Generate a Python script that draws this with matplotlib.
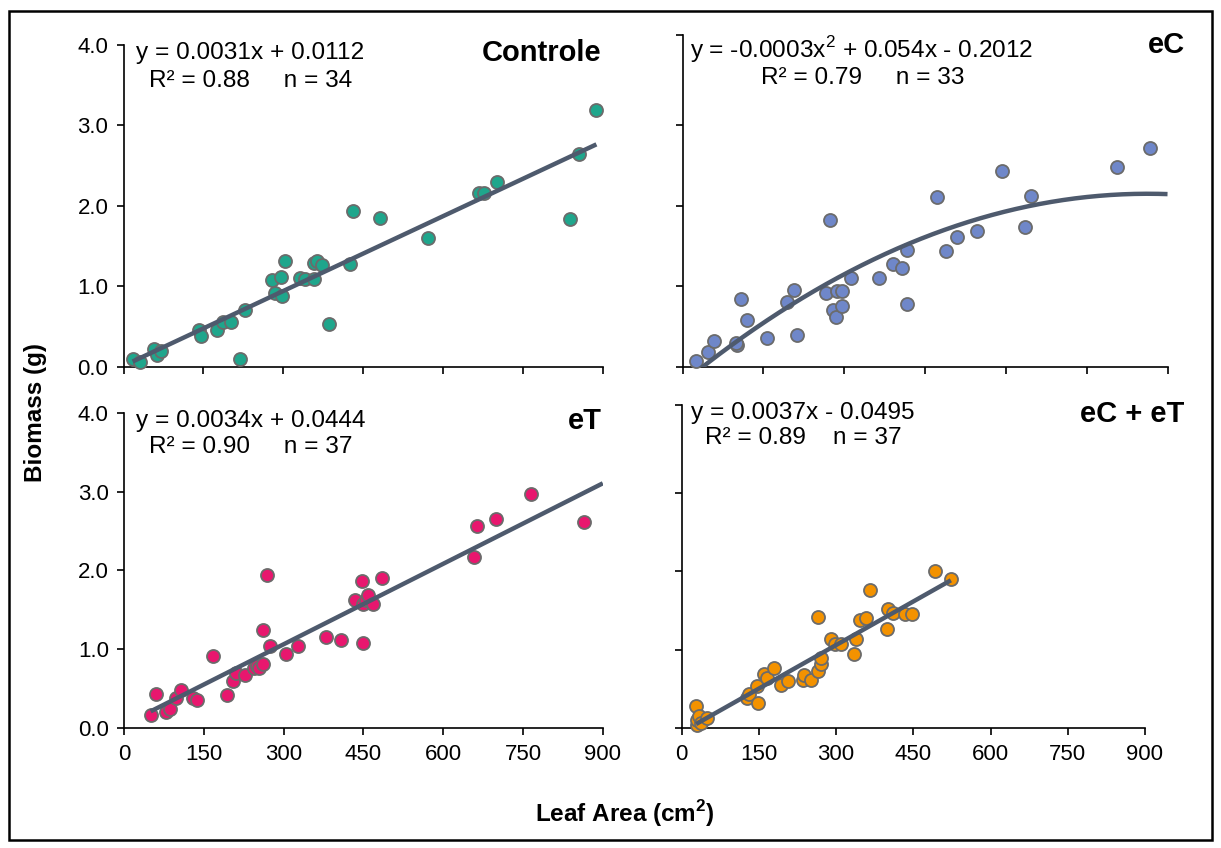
import numpy as np
import matplotlib
matplotlib.use("Agg")
import matplotlib.pyplot as plt
from matplotlib.patches import Rectangle

plt.rcParams["font.family"] = ["Liberation Sans", "DejaVu Sans"]
plt.rcParams["mathtext.fontset"] = "custom"
plt.rcParams["mathtext.rm"] = "Liberation Sans"
plt.rcParams["mathtext.bf"] = "Liberation Sans:bold"

# Controle
ctrl_x = [17, 30, 58, 62, 70, 142, 146, 176, 187, 202, 219, 228, 278, 285, 296,
          298, 303, 332, 340, 358, 358, 364, 373, 386, 425, 430, 481, 571, 668,
          677, 701, 839, 855, 888]
ctrl_y = [0.10, 0.06, 0.22, 0.15, 0.19, 0.45, 0.38, 0.45, 0.56, 0.55, 0.10, 0.71,
          1.08, 0.92, 1.11, 0.88, 1.32, 1.10, 1.09, 1.09, 1.29, 1.32, 1.27, 0.53,
          1.28, 1.93, 1.85, 1.60, 2.16, 2.16, 2.30, 1.84, 2.65, 3.19]

# eC
ec_x = [25, 47, 58, 101, 100, 109, 120, 156, 193, 206, 213, 267, 274, 279, 284,
        287, 296, 313, 364, 390, 407, 416, 417, 473, 488, 510, 547, 593, 635,
        647, 806, 867, 296]
ec_y = [0.07, 0.18, 0.32, 0.27, 0.30, 0.84, 0.58, 0.36, 0.80, 0.95, 0.39, 0.91,
        1.82, 0.71, 0.62, 0.94, 0.75, 1.10, 1.10, 1.27, 1.22, 0.78, 1.45, 2.11,
        1.44, 1.61, 1.68, 2.43, 1.74, 2.12, 2.48, 2.72, 0.94]

# eT
et_x = [50, 60, 79, 86, 98, 107, 130, 138, 168, 193, 205, 210, 228, 245, 249,
        253, 261, 261, 269, 274, 304, 327, 380, 408, 434, 447, 449, 450, 455,
        458, 468, 485, 657, 663, 699, 765, 864]
et_y = [0.17, 0.43, 0.20, 0.25, 0.38, 0.49, 0.38, 0.36, 0.92, 0.42, 0.60, 0.70,
        0.67, 0.77, 0.79, 0.77, 1.24, 0.81, 1.94, 1.04, 0.94, 1.04, 1.16, 1.12,
        1.63, 1.86, 1.08, 1.58, 1.62, 1.69, 1.57, 1.90, 2.17, 2.56, 2.65, 2.97,
        2.61]

# eC + eT
ecet_x = [28, 30, 30, 33, 38, 49, 126, 131, 146, 149, 160, 165, 179, 192, 206,
          235, 238, 252, 264, 264, 270, 271, 290, 297, 310, 334, 338, 346, 359,
          366, 398, 400, 410, 434, 447, 493, 523]
ecet_y = [0.28, 0.04, 0.10, 0.16, 0.07, 0.13, 0.38, 0.44, 0.54, 0.32, 0.69, 0.64,
          0.77, 0.55, 0.60, 0.61, 0.68, 0.62, 0.73, 1.42, 0.82, 0.90, 1.14, 1.08,
          1.08, 0.95, 1.14, 1.38, 1.41, 1.76, 1.26, 1.52, 1.47, 1.45, 1.45, 2.00,
          1.90]

# trendline coefficients (highest power first) and x-range of each line
trend_coefs = [[0.0031, 0.0112],
               [-0.00000315, 0.00544, -0.2012],
               [0.0034, 0.0444],
               [0.0037, -0.0495]]
trend_ranges = [[17, 888], [25, 900], [50, 900], [28, 523]]

panel_titles = ["Controle", "eC", "eT", "eC + eT"]
equations = ["y = 0.0031x + 0.0112",
             "y = -0.0003x$^2$ + 0.054x - 0.2012",
             "y = 0.0034x + 0.0444",
             "y = 0.0037x - 0.0495"]
stats = ["R² = 0.88     n = 34",
         "R² = 0.79     n = 33",
         "R² = 0.90     n = 37",
         "R² = 0.89    n = 37"]
colors = ["#1fa68c", "#6f87c9", "#e8176e", "#f39200"]
xticks = [0, 150, 300, 450, 600, 750, 900]

line_color = "#4e5a6d"
edge_color = "#6b6b6b"

fig = plt.figure(figsize=(12.21, 8.48), dpi=100)
fig.patches.append(Rectangle((0.0070, 0.0094), 0.9857, 0.9776,
                             transform=fig.transFigure, fill=False,
                             edgecolor="black", linewidth=1.8))

ax_tl = fig.add_axes([0.1012, 0.5676, 0.3925, 0.3794])
ax_tr = fig.add_axes([0.5590, 0.5676, 0.3972, 0.3912])
ax_bl = fig.add_axes([0.1016, 0.1412, 0.3921, 0.3722])
ax_br = fig.add_axes([0.5583, 0.1412, 0.3794, 0.3813])
axes = [ax_tl, ax_tr, ax_bl, ax_br]
ytops = [4.0, 4.12, 4.0, 4.12]

data = [(ctrl_x, ctrl_y), (ec_x, ec_y), (et_x, et_y), (ecet_x, ecet_y)]

for i, ax in enumerate(axes):
    x = np.array(data[i][0], dtype=float)
    y = np.array(data[i][1], dtype=float)
    ax.scatter(x, y, s=88, color=colors[i], edgecolor=edge_color,
               linewidth=1.3, zorder=3, clip_on=False)

    # trendline
    xx = np.linspace(trend_ranges[i][0], trend_ranges[i][1], 200)
    ax.plot(xx, np.polyval(trend_coefs[i], xx), color=line_color, lw=3.2,
            zorder=4, solid_capstyle="butt")

    ax.set_xlim(0, 900)
    ax.set_ylim(0, ytops[i])
    ax.set_xticks(xticks)
    if ytops[i] > 4.0:
        ax.set_yticks([0, 1, 2, 3, ytops[i]])
    else:
        ax.set_yticks([0, 1, 2, 3, 4])
    ax.yaxis.set_major_formatter(plt.FormatStrFormatter("%.1f"))
    for s in ["top", "right"]:
        ax.spines[s].set_visible(False)
    for s in ["left", "bottom"]:
        ax.spines[s].set_linewidth(1.2)
    ax.tick_params(direction="out", length=5, width=1.2, labelsize=16,
                   pad=6)
    if i in (1, 3):
        ax.tick_params(axis="y", labelleft=False)
    if i in (0, 1):
        ax.tick_params(axis="x", labelbottom=False)

# equations and labels
fs_eq = 17.6
fs_title = 21
ax_tl.text(23, 3.90, equations[0], fontsize=fs_eq, va="center", ha="left")
ax_tl.text(48, 3.55, stats[0], fontsize=fs_eq, va="center", ha="left")
ax_tl.text(898, 3.90, panel_titles[0], fontsize=fs_title, fontweight="bold",
           va="center", ha="right")

ax_tr.text(14, 3.94, equations[1], fontsize=fs_eq, va="center", ha="left")
ax_tr.text(146, 3.58, stats[1], fontsize=fs_eq, va="center", ha="left")
ax_tr.text(932, 4.00, panel_titles[1], fontsize=fs_title, fontweight="bold",
           va="center", ha="right")

ax_bl.text(22, 3.89, equations[2], fontsize=fs_eq, va="center", ha="left")
ax_bl.text(47, 3.57, stats[2], fontsize=fs_eq, va="center", ha="left")
ax_bl.text(898, 3.89, panel_titles[2], fontsize=fs_title, fontweight="bold",
           va="center", ha="right")

ax_br.text(19, 4.02, equations[3], fontsize=fs_eq, va="center", ha="left")
ax_br.text(46, 3.70, stats[3], fontsize=fs_eq, va="center", ha="left")
ax_br.text(977, 4.0, panel_titles[3], fontsize=fs_title, fontweight="bold",
           va="center", ha="right")

fig.text(0.0287, 0.513, "Biomass (g)", rotation=90, fontsize=17.5,
         fontweight="bold", ha="center", va="center")
fig.text(0.512, 0.041, r"Leaf Area (cm$^\mathbf{2}$)", fontsize=17.5,
         fontweight="bold", ha="center", va="center")

fig.savefig("out.png", dpi=100)
